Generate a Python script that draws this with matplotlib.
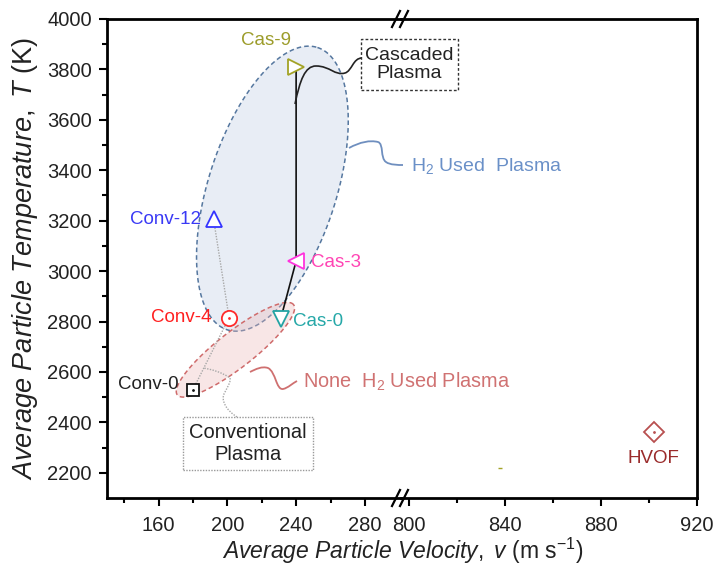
import numpy as np
import matplotlib
matplotlib.use("Agg")
import matplotlib.pyplot as plt
from matplotlib.patches import Polygon, Rectangle, PathPatch
from matplotlib.path import Path
from matplotlib.lines import Line2D

plt.rcParams['font.family'] = ['Liberation Sans', 'DejaVu Sans']
plt.rcParams['mathtext.fontset'] = 'custom'
plt.rcParams['mathtext.rm'] = 'Liberation Sans'
plt.rcParams['mathtext.it'] = 'Liberation Sans:italic'

# ---- data: particle velocity (m/s) and temperature (K) ----
labels = ["Conv-0", "Conv-4", "Conv-12", "Cas-0", "Cas-3", "Cas-9", "HVOF"]
velocity = [180, 201, 192, 231, 240, 240, 902]
temperature = [2530, 2815, 3205, 2810, 3040, 3810, 2363]
markers = ["s", "o", "^", "v", "<", ">", "D"]
colors = ["#111111", "#ff2a2a", "#3434ff", "#22a3a3", "#ff33dd", "#a3a326", "#b85050"]
text_colors = ["#222222", "#ff2020", "#3a3af5", "#26a8a8", "#ff44b4", "#9c9c2a", "#9a2b2b"]

conv_series = ["Conv-12", "Conv-4", "Conv-0"]
cas_series = ["Cas-9", "Cas-3", "Cas-0"]

# stray point on the high-velocity panel
stray_v = [838]
stray_T = [2218]

x_left_ticks = [160, 200, 240, 280]
x_right_ticks = [800, 840, 880, 920]
y_ticks = [2200, 2400, 2600, 2800, 3000, 3200, 3400, 3600, 3800, 4000]

W, H = 716, 576
fig = plt.figure(figsize=(W / 100, H / 100), dpi=100)


def px(x, y):
    """pixel (from top-left) -> figure fraction"""
    return (x / W, 1 - y / H)


x0, x_break, x1 = 107, 401, 697
y_top, y_bot = 19, 498
axL = fig.add_axes([x0 / W, 1 - y_bot / H, (x_break - x0) / W, (y_bot - y_top) / H])
axR = fig.add_axes([x_break / W, 1 - y_bot / H, (x1 - x_break) / W, (y_bot - y_top) / H])
axL.set_xlim(130, 301)
axR.set_xlim(796.7, 920)
for ax in (axL, axR):
    ax.set_ylim(2100, 4000)
    ax.set_facecolor("none")
    for s in ax.spines.values():
        s.set_linewidth(2.0)
    ax.tick_params(which="major", direction="out", length=6, width=1.5,
                   labelsize=14.5, colors="black", labelcolor="#222222", pad=7)
    ax.tick_params(which="minor", direction="out", length=3.5, width=1.5)
axL.spines["right"].set_visible(False)
axR.spines["left"].set_visible(False)
axR.tick_params(axis="y", which="both", left=False, labelleft=False)
axL.set_xticks(x_left_ticks)
axL.set_xticks([140, 180, 220, 260], minor=True)
axR.set_xticks(x_right_ticks)
axR.set_xticks([820, 860, 900], minor=True)
axL.set_yticks(y_ticks)
axL.set_yticks(np.arange(2300, 4000, 200), minor=True)
axL.tick_params(axis="y", pad=5)


# ---- shaded regions (parametric ellipses in data units) ----
def ellipse_poly(c, a, b, n=200):
    t = np.linspace(0, 2 * np.pi, n)
    return np.column_stack([c[0] + a[0] * np.cos(t) + b[0] * np.sin(t),
                            c[1] + a[1] * np.cos(t) + b[1] * np.sin(t)])


h2_region = Polygon(ellipse_poly((226.2, 3327), (26.2, 560), (35.5, -77.4)),
                    closed=True, facecolor="#e8edf5", edgecolor="#55779f",
                    lw=1.1, ls=(0, (3, 2)), zorder=1)
axL.add_patch(h2_region)
no_h2_region = Polygon(ellipse_poly((204.7, 2688), (33.8, 179), (-6.4, 56.5)),
                       closed=True, facecolor=(0.93, 0.72, 0.72, 0.35),
                       edgecolor="#cf6b6b", lw=1.1, ls=(0, (3, 2)), zorder=2)
axL.add_patch(no_h2_region)

# ---- connecting lines ----
idx = {k: i for i, k in enumerate(labels)}
axL.plot([velocity[idx[k]] for k in conv_series],
         [temperature[idx[k]] for k in conv_series],
         color="#a8a8a8", lw=1.0, ls=(0, (1, 1)), zorder=3)
axL.plot([velocity[idx[k]] for k in cas_series],
         [temperature[idx[k]] for k in cas_series],
         color="#111111", lw=1.2, zorder=3)

# ---- markers and labels ----
marker_sizes = {"s": 9, "o": 11, "^": 12, "v": 12, "<": 12, ">": 12, "D": 10}
label_offsets = {
    "Conv-0": (-10, 4, "right"), "Conv-4": (-13, 0, "right"),
    "Conv-12": (-9, 0, "right"), "Cas-0": (9, -2, "left"),
    "Cas-3": (11, -1, "left"), "Cas-9": (-22, 19, "center"),
    "HVOF": (0, -19, "center"),
}
for lab, v, T, m, c, tc in zip(labels, velocity, temperature, markers, colors, text_colors):
    ax = axR if v > 500 else axL
    ax.plot([v], [T], marker=m, ms=marker_sizes[m], mfc="white", mec=c,
            mew=1.3, ls="none", zorder=5)
    if m in ("s", "o", "D"):
        ax.plot([v], [T], marker=".", ms=2, color=c, zorder=6)
    dx, dy, ha = label_offsets[lab]
    ax.annotate(lab, (v, T), xytext=(dx, dy), textcoords="offset points",
                ha=ha, va="center", fontsize=13.5, color=tc, zorder=7)
axR.plot(stray_v, stray_T, marker="_", ms=3, color="#a3a326", ls="none")

# ---- axis break marks ----
for yb in (y_top, y_bot):
    fig.add_artist(Rectangle(px(396, yb - 2), 8 / W, 4 / H, transform=fig.transFigure,
                             facecolor="white", edgecolor="none", zorder=8))
    for xb in (396, 404):
        fig.add_artist(Line2D([xb / W - 4 / W, xb / W + 4 / W],
                              [1 - (yb + 8) / H, 1 - (yb - 8) / H],
                              transform=fig.transFigure, color="black", lw=1.6, zorder=9))


# ---- callouts ----
def curve(points, **kw):
    verts = [px(*p) for p in points]
    codes = [Path.MOVETO] + [Path.CURVE4] * (len(verts) - 1)
    fig.add_artist(PathPatch(Path(verts, codes), transform=fig.transFigure,
                             facecolor="none", **kw))


curve([(295, 104), (300, 80), (305, 66), (316, 66),
       (330, 66), (335, 76), (345, 73),
       (352, 71), (353, 58), (362, 58)], edgecolor="#222222", lw=1.2, zorder=9)
fig.add_artist(Rectangle(px(361, 90), 97 / W, 51 / H, transform=fig.transFigure,
                         facecolor="white", edgecolor="#333333", lw=1.0,
                         ls=(0, (2, 1.5)), zorder=9))
fig.text(*px(409.5, 64.5), "Cascaded\nPlasma", ha="center", va="center",
         fontsize=14, color="#222222", linespacing=1.15, zorder=10)

curve([(349, 148), (360, 142), (370, 140), (378, 142),
       (384, 144), (380, 158), (386, 162),
       (390, 165), (398, 165), (403, 165)], edgecolor="#6f8fbf", lw=1.3, zorder=9)
fig.text(*px(411, 166), "H$_2$ Used  Plasma", ha="left", va="center",
         fontsize=14, color="#6a90c8", zorder=10)

curve([(250, 372), (256, 369), (262, 366), (268, 368),
       (276, 372), (276, 390), (283, 389),
       (288, 388), (293, 383), (297, 381)], edgecolor="#cf7070", lw=1.3, zorder=9)
fig.text(*px(303, 382), "None  H$_2$ Used Plasma", ha="left", va="center",
         fontsize=14.3, color="#d07272", zorder=10)

curve([(237, 417), (226, 410), (220, 400), (225, 392),
       (228, 386), (231, 382), (230, 378),
       (222, 372), (210, 369), (203, 368)], edgecolor="#a8a8a8", lw=1.0,
      ls=(0, (1, 1)), zorder=9)
fig.add_artist(Rectangle(px(183, 470), 130 / W, 53 / H, transform=fig.transFigure,
                         facecolor="white", edgecolor="#999999", lw=1.0,
                         ls=(0, (1, 1)), zorder=9))
fig.text(*px(248, 443), "Conventional\nPlasma", ha="center", va="center",
         fontsize=14.5, color="#222222", linespacing=1.2, zorder=10)

# ---- axis titles ----
fig.text(*px(403, 551), r"$Average\ Particle\ Velocity,\ v$ (m s$^{\mathregular{-1}}$)",
         ha="center", va="center", fontsize=16.5, color="#222222")
fig.text(*px(25, 258), r"$Average\ Particle\ Temperature,\ T$ (K)",
         ha="center", va="center", rotation=90, fontsize=19.5, color="#222222")

fig.savefig("out.png", dpi=100)
